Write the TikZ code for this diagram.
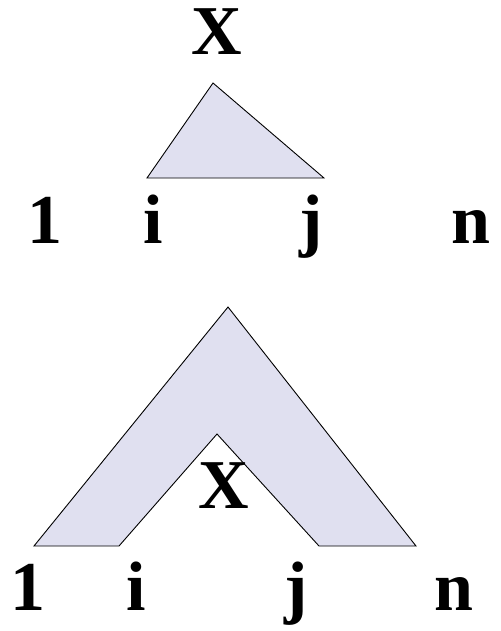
\documentclass[tikz,border=0pt]{standalone}
\usepackage{fontspec}
\setmainfont{Liberation Serif}
\usepackage{tikz}
\usetikzlibrary{positioning}

\definecolor{spanfill}{RGB}{224,224,240}

\begin{document}
\begin{tikzpicture}[
		x=1pt,y=-1pt,
		every node/.style={
			inner sep=0pt,
			anchor=base,
			font=\fontsize{70}{84}\selectfont\bfseries
		},
		span/.style={
			draw=black,
			fill=spanfill,
			line width=0.9pt,
			line join=miter
		}
		]
		
		\useasboundingbox (0,0) rectangle (500,631);
		
		%--------------------------------------------------
		% Inside: X spans i..j
		%--------------------------------------------------
		
		\coordinate (intop) at (213,83);
		\coordinate (inleft) at (147,178);
		\coordinate (inright) at (324,178);
		
		\draw[span] (inleft) -- (intop) -- (inright) -- cycle;
		
		\node (xin) at (217,55) {X};
		
		\node (one1) at (45,243) {1};
		\node (i1) at (153,243) {i};
		\node (j1) at (311,243) {j};
		\node (n1) at (471,243) {n};
		
		%--------------------------------------------------
		% Outside: 1..i and j..n around X
		%--------------------------------------------------
		
		\coordinate (outtop) at (228,307);
		\coordinate (outleft) at (34,546);
		\coordinate (holeleft) at (119,546);
		\coordinate (holetop) at (217,434);
		\coordinate (holeright) at (319,546);
		\coordinate (outright) at (416,546);
		
		\draw[span] (outleft) -- (outtop) -- (outright) -- (holeright)
		-- (holetop) -- (holeleft) -- cycle;
		
		\node (xout) at (224,508) {X};
		
		\node (one2) at (28,610) {1};
		\node (i2) at (136,610) {i};
		\node (j2) at (296,610) {j};
		\node (n2) at (454,610) {n};
		
	\end{tikzpicture}
\end{document}
